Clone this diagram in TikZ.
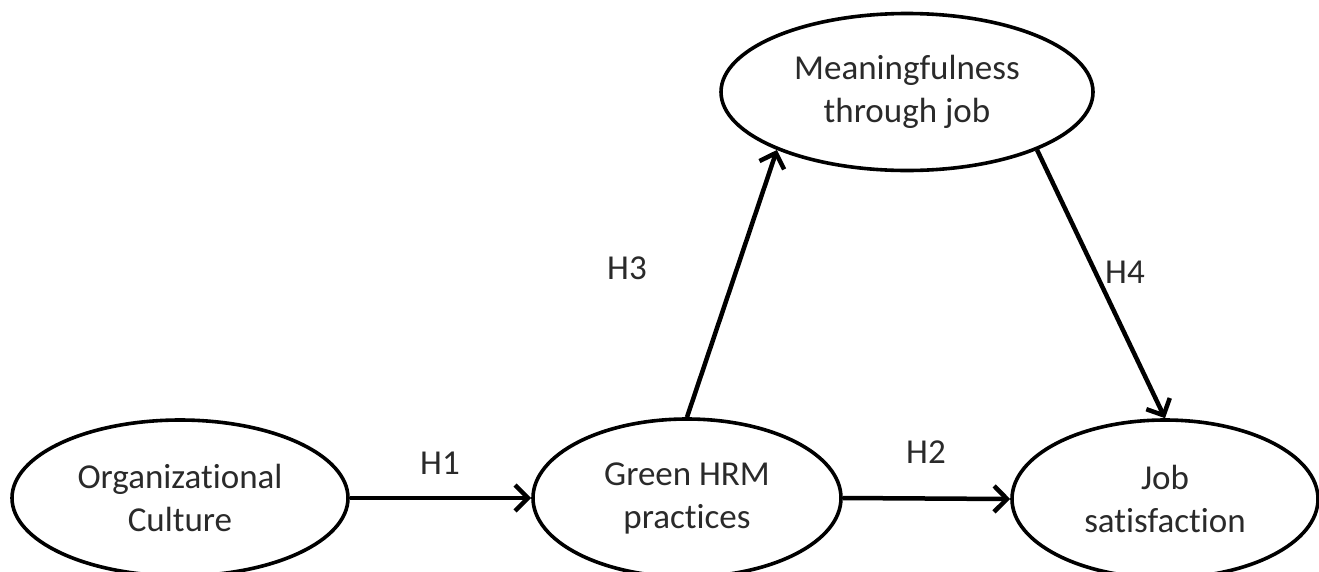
\documentclass[tikz,border=0pt]{standalone}
\usepackage{fontspec}
\setmainfont[Ligatures=NoCommon]{Carlito}
\usetikzlibrary{shapes.geometric,arrows.meta}
\definecolor{txt}{HTML}{2A2A2A}
\begin{document}
\begin{tikzpicture}[x=1pt,y=-1pt,
  construct/.style={ellipse,draw=black,line width=3.6pt,inner sep=0pt,align=center,
    text=txt,font=\fontsize{35}{43}\selectfont},
  link/.style={line width=4.5pt,-{Straight Barb[length=13pt,width=26pt,line width=4.5pt]}},
  hyp/.style={text=txt,font=\fontsize{35}{42}\selectfont,inner sep=1pt}]
\useasboundingbox (0,0) rectangle (1319,571);
\fill[white] (0,0) rectangle (1319,571);
\clip (0,0) rectangle (1319,571);
\node[construct,minimum width=336pt,minimum height=156pt] (oc) at (180,498) {Organizational\\Culture};
\node[construct,minimum width=308pt,minimum height=158pt] (gh) at (687,498) {Green HRM\\practices};
\node[construct,minimum width=306pt,minimum height=158pt] (js) at (1165,499) {Job\\satisfaction};
\node[construct,minimum width=372pt,minimum height=157pt] (mt) at (907,92) {Meaningfulness\\through job};
\draw[link] (oc.east) -- (gh.west);
\draw[link] (gh.east) -- (js.west);
\draw[link] (gh.north) -- (mt.204);
\draw[link] (mt.-24) -- (js.north);
\node[hyp] (h1) at (440,463) {H1};
\node[hyp] (h2) at (926,452) {H2};
\node[hyp] (h3) at (627,268) {H3};
\node[hyp,fill=white] (h4) at (1125,272) {H4};
\end{tikzpicture}
\end{document}
